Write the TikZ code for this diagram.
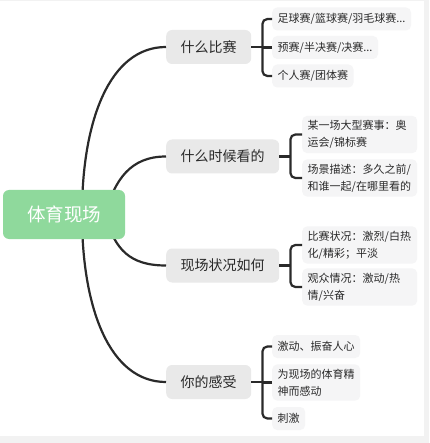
\documentclass[tikz,border=0pt]{standalone}
\usepackage{fontspec}
\setmainfont{Noto Sans CJK SC}

\definecolor{rootgreen}{HTML}{8FD99C}
\definecolor{topicgray}{HTML}{E9E9E9}
\definecolor{leafgray}{HTML}{F5F5F6}
\definecolor{inkgray}{HTML}{2A2A2A}
\definecolor{pagegray}{HTML}{F2F2F2}

\tikzset{
	root/.style={fill=rootgreen, rounded corners=6pt, text=white, font=\fontsize{18.5}{22}\selectfont, minimum width=122pt, minimum height=49pt, inner sep=0pt},
	topic/.style={fill=topicgray, rounded corners=6pt, text=inkgray, font=\fontsize{14}{17}\selectfont, minimum height=34pt, inner xsep=14.5pt, inner ysep=0pt, anchor=west},
	leaf/.style={fill=leafgray, rounded corners=5pt, text=inkgray, font=\fontsize{11}{17}\selectfont, align=left, minimum height=23pt, inner xsep=5.5pt, inner ysep=4.5pt, anchor=west},
	wrapped/.style={text width=104pt},
	link/.style={draw=inkgray, line width=2.2pt},
}

\begin{document}
\begin{tikzpicture}[x=1pt, y=-1pt]
		\useasboundingbox (0, 0) rectangle (429, 443);
		\fill[pagegray] (0, 0) rectangle (429, 443);
		\fill[white] (0, 1) rectangle (424, 436);

			% main topics
			\node[topic] (q1) at (166, 47){什么比赛};
			\node[topic] (q2) at (166, 156.5){什么时候看的};
			\node[topic] (q3) at (166, 265.5){现场状况如何};
			\node[topic] (q4) at (166, 382){你的感受};

			% sub topics
			\node[leaf] (q1a) at (272, 19){足球赛/篮球赛/羽毛球赛...};
			\node[leaf] (q1b) at (272, 47.5){预赛/半决赛/决赛...};
			\node[leaf] (q1c) at (272, 76){个人赛/团体赛};

			\node[leaf, wrapped] (q2a) at (302, 134.5){某一场大型赛事：奥\\运会/锦标赛};
			\node[leaf, wrapped] (q2b) at (302, 178){场景描述：多久之前/\\和谁一起/在哪里看的};

			\node[leaf, wrapped] (q3a) at (302, 245){比赛状况：激烈/白热\\化/精彩；平淡};
			\node[leaf, wrapped] (q3b) at (302, 287){观众情况：激动/热\\情/兴奋};

			\node[leaf] (q4a) at (272, 346.5){激动、振奋人心};
			\node[leaf] (q4b) at (272, 382.5){为现场的体育精\\神而感动};
			\node[leaf] (q4c) at (272, 418.5){刺激};

			% curves out of the root
			\coordinate (r1) at (82, 214);
			\coordinate (r2) at (105, 214);
			\coordinate (r3) at (105, 215);
			\coordinate (r4) at (82, 215);
			\draw[link] (r1) .. controls (82, 120) and (110, 47) .. (q1.west);
			\draw[link] (r2) .. controls (115, 180) and (130, 156.5) .. (q2.west);
			\draw[link] (r3) .. controls (115, 250) and (130, 265.5) .. (q3.west);
			\draw[link] (r4) .. controls (82, 309) and (110, 382) .. (q4.west);

			\node[root] (sport) at (64, 214.5){体育现场};

			% brackets
			\draw[link] (q1.east) -- ++(11, 0) coordinate (b1);
			\draw[link, rounded corners=5pt] (q1a.west) -| (b1) |- (q1c.west);
			\draw[link] (q1b.west) -- (q1b.west -| b1);

			\draw[link] (q2.east) -- ++(11, 0) coordinate (b2);
			\draw[link, rounded corners=5pt] (q2a.west) -| (b2) |- (q2b.west);

			\draw[link] (q3.east) -- ++(11, 0) coordinate (b3);
			\draw[link, rounded corners=5pt] (q3a.west) -| (b3) |- (q3b.west);

			\draw[link] (q4.east) -- ++(11, 0) coordinate (b4);
			\draw[link, rounded corners=5pt] (q4a.west) -| (b4) |- (q4c.west);
			\draw[link] (q4b.west) -- (q4b.west -| b4);

\end{tikzpicture}
\end{document}
